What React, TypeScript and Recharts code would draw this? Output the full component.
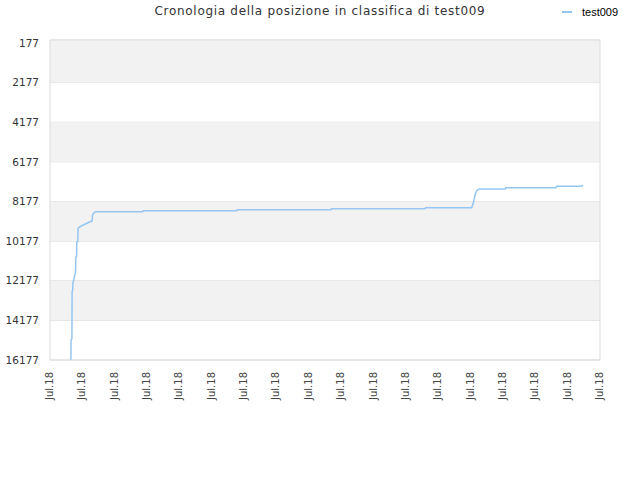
import { LineChart, Line, XAxis, YAxis, CartesianGrid, ReferenceArea, Legend } from 'recharts';

const title = 'Cronologia della posizione in classifica di test009';
const seriesName = 'test009';

// tempo: 1 unità = distanza tra due etichette "Jul.18"
const times = [
    0.646, 0.652, 0.677, 0.683, 0.702, 0.708, 0.733, 0.763, 0.788, 0.797,
    0.822, 0.828, 0.859, 0.869, 0.927, 1.029, 1.236, 1.304, 1.314, 1.36,
    1.413, 2.865, 2.884, 5.771, 5.789, 8.685, 8.704, 11.591, 11.609, 13.034,
    13.084, 13.115, 13.146, 13.189, 13.27, 14.064, 14.082, 15.64, 15.658, 16.434,
    16.475,
];
const positions = [
    16160, 15170, 15100, 12730, 12645, 12290, 12140, 11890, 11790, 10980,
    10960, 10210, 10200, 9530, 9450, 9365, 9200, 9160, 8860, 8745,
    8693, 8693, 8642, 8642, 8592, 8592, 8541, 8541, 8491, 8491,
    8269, 8016, 7799, 7633, 7547, 7547, 7481, 7481, 7411, 7411,
    7345,
];

const xTickLabels = [
    'Jul.18', 'Jul.18', 'Jul.18', 'Jul.18', 'Jul.18', 'Jul.18',
    'Jul.18', 'Jul.18', 'Jul.18', 'Jul.18', 'Jul.18', 'Jul.18',
    'Jul.18', 'Jul.18', 'Jul.18', 'Jul.18', 'Jul.18', 'Jul.18',
];
const yTicks = [177, 2177, 4177, 6177, 8177, 10177, 12177, 14177, 16177];
const yDomain = [27, 16177];
const xDomain = [0, xTickLabels.length - 1];

const data = times.map((t, i) => ({ t, pos: positions[i] }));
const xTicks = xTickLabels.map((_, i) => i);

// fasce grigie alternate
const bands = yTicks
    .slice(0, -1)
    .map((v, i) => ({ y1: i === 0 ? yDomain[0] : v, y2: yTicks[i + 1] }))
    .filter((_, i) => i % 2 === 0);

const font = 'DejaVu Sans, sans-serif';
const lineColor = '#95c6f2';

const XTick = (props: any) => {
    const { x, y, payload } = props;
    return (
        <g transform={`translate(${x},${y})`}>
            <text transform="rotate(-90)" textAnchor="end" dy="0.3em" fontFamily={font} fontSize={10} fill="#444">
                {xTickLabels[payload.value]}
            </text>
        </g>
    );
};

const LegendBox = () => (
    <div style={{ display: 'flex', alignItems: 'center', fontFamily: 'Liberation Sans, Arial, sans-serif', fontSize: 11, color: '#000' }}>
        <span style={{ display: 'inline-block', width: 10, height: 2, background: lineColor, marginRight: 10 }} />
        {seriesName}
    </div>
);

const App = () => {
    return (
        <div style={{ position: 'absolute', left: 0, top: 0, width: 640, height: 480, background: '#fff' }}>
            <div style={{ position: 'absolute', top: 4, left: 0, width: 640, textAlign: 'center', fontFamily: font, fontSize: 12, letterSpacing: 0.7, lineHeight: '14px', color: '#333' }}>
                {title}
            </div>
            <LineChart width={640} height={480} data={data} margin={{ top: 40, right: 40, bottom: 60, left: 0 }}>
                {bands.map((b, i) => (
                    <ReferenceArea key={`band-${i}`} y1={b.y1} y2={b.y2} fill="#f2f2f2" fillOpacity={1} stroke="none" />
                ))}
                <CartesianGrid vertical={false} stroke="#dedede" />
                <XAxis
                    type="number"
                    dataKey="t"
                    domain={xDomain}
                    ticks={xTicks}
                    interval={0}
                    tick={<XTick />}
                    tickLine={false}
                    axisLine={false}
                    tickSize={0}
                    tickMargin={12}
                    height={60}
                />
                <YAxis
                    type="number"
                    reversed
                    domain={yDomain}
                    ticks={yTicks}
                    interval={0}
                    width={50}
                    tickLine={false}
                    axisLine={false}
                    tickSize={0}
                    tickMargin={11}
                    tick={{ fontFamily: font, fontSize: 10.5, fill: '#333' }}
                />
                <Legend
                    layout="horizontal"
                    verticalAlign="middle"
                    align="center"
                    content={() => <LegendBox />}
                    wrapperStyle={{ top: 6, left: 562, width: 78, height: 14 }}
                />
                <Line
                    type="linear"
                    dataKey="pos"
                    name={seriesName}
                    stroke={lineColor}
                    strokeWidth={1.5}
                    dot={false}
                    isAnimationActive={false}
                />
                <ReferenceArea
                    x1={xDomain[0]}
                    x2={xDomain[1]}
                    y1={yDomain[0]}
                    y2={yDomain[1]}
                    fill="none"
                    stroke="#dcdcdc"
                    strokeWidth={1}
                />
            </LineChart>
        </div>
    );
};

export default App;
